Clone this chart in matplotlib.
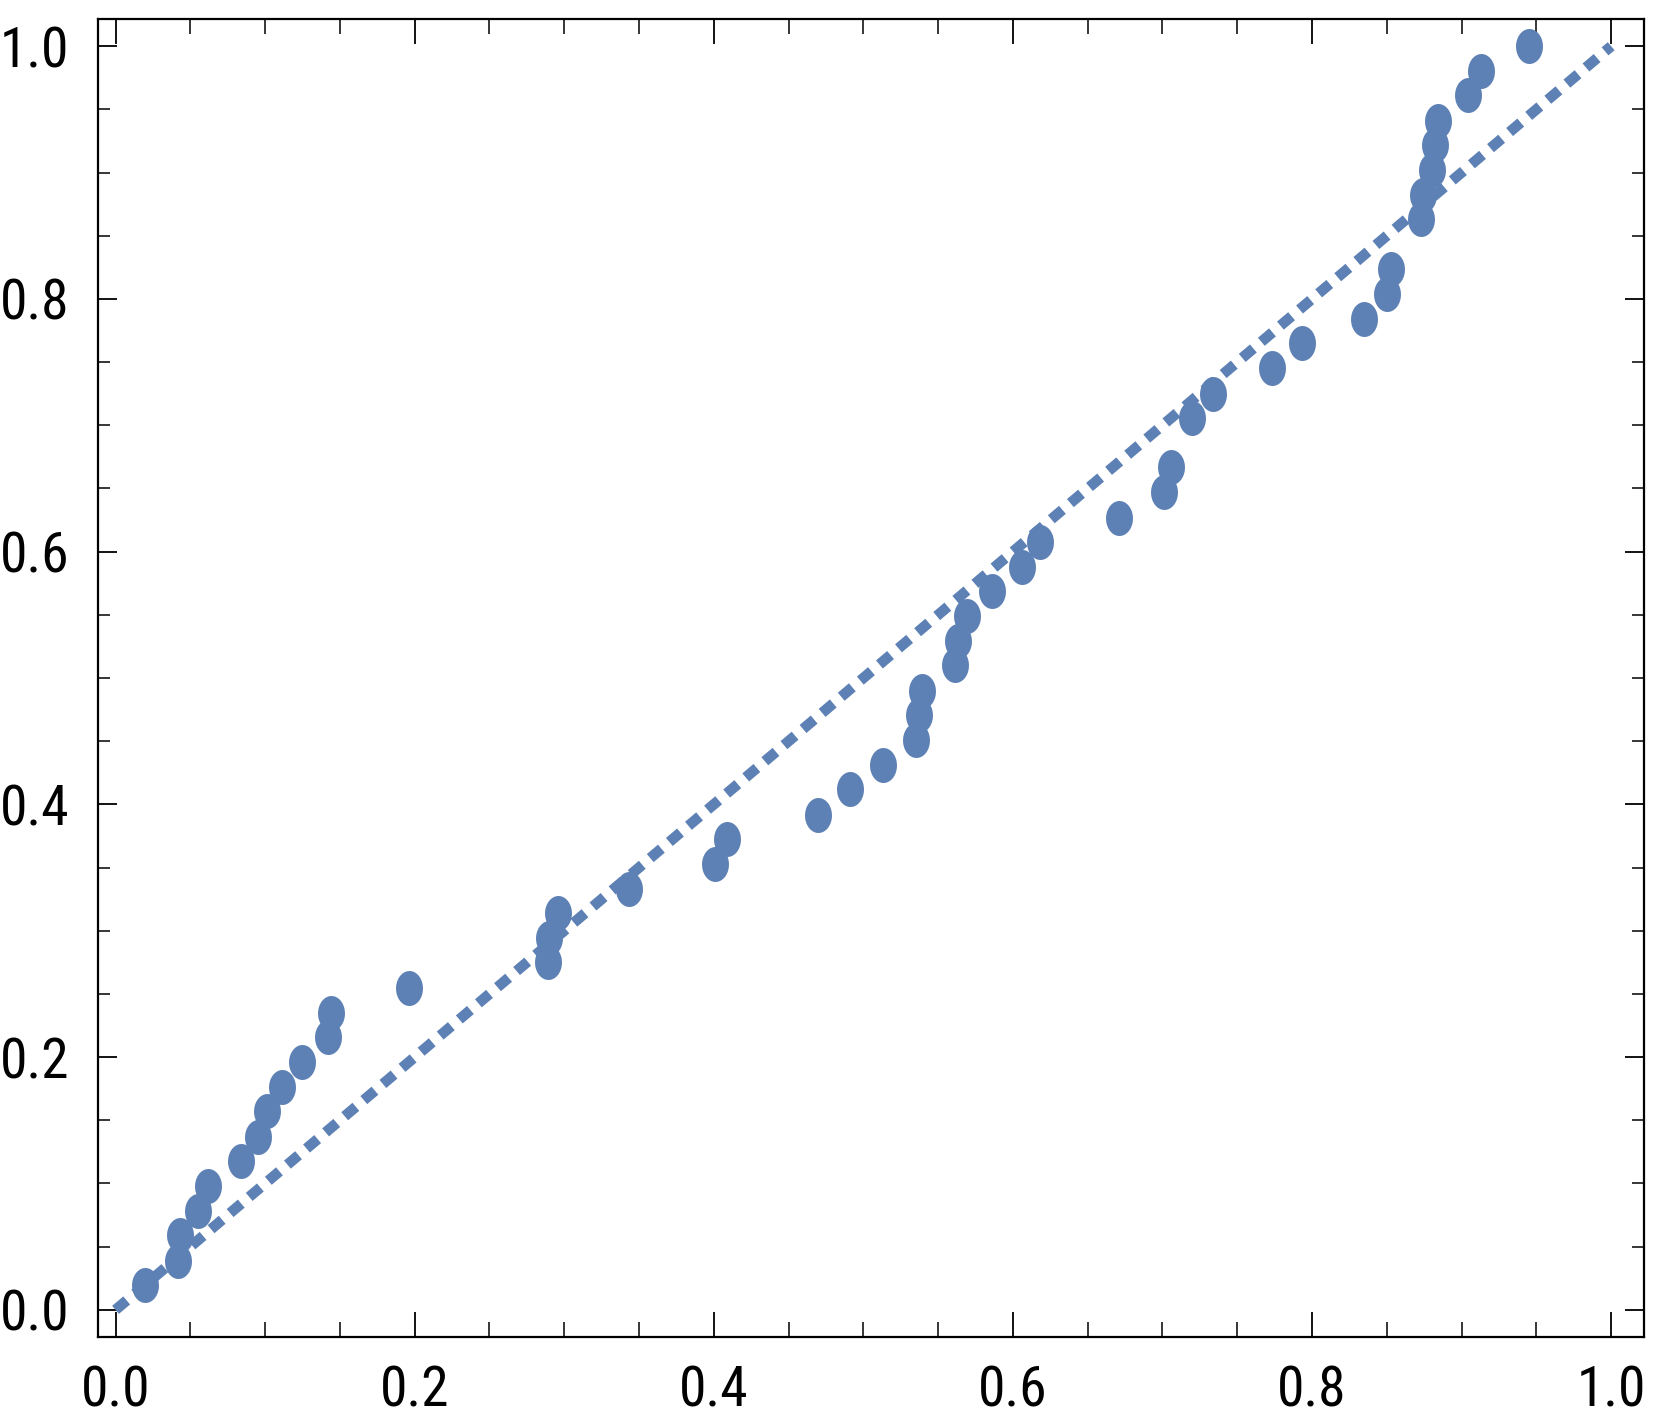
import numpy as np
import matplotlib
matplotlib.use("Agg")
import matplotlib.pyplot as plt
from matplotlib import font_manager
from matplotlib.path import Path
from matplotlib.ticker import MultipleLocator

x_vals = [0.020, 0.042, 0.043, 0.055, 0.062, 0.084, 0.095, 0.101, 0.111, 0.125,
          0.142, 0.144, 0.196, 0.289, 0.290, 0.296, 0.343, 0.401, 0.409, 0.470,
          0.491, 0.513, 0.535, 0.537, 0.539, 0.561, 0.563, 0.569, 0.586, 0.606,
          0.618, 0.671, 0.701, 0.706, 0.720, 0.734, 0.773, 0.793, 0.835, 0.850,
          0.853, 0.873, 0.874, 0.880, 0.882, 0.884, 0.904, 0.913, 0.945]
y_vals = [0.020, 0.039, 0.059, 0.078, 0.098, 0.118, 0.137, 0.157, 0.176, 0.196,
          0.216, 0.235, 0.255, 0.275, 0.294, 0.314, 0.333, 0.353, 0.373, 0.392,
          0.412, 0.431, 0.451, 0.471, 0.490, 0.510, 0.529, 0.549, 0.569, 0.588,
          0.608, 0.627, 0.647, 0.667, 0.706, 0.725, 0.745, 0.765, 0.784, 0.804,
          0.824, 0.863, 0.882, 0.902, 0.922, 0.941, 0.961, 0.980, 1.000]
ref_line = [0.0, 1.0]
tick_vals = [0.0, 0.2, 0.4, 0.6, 0.8, 1.0]

BLUE = "#5E81B5"
DPI = 100

# pick the narrowest sans family that is actually installed
installed = {f.name for f in font_manager.fontManager.ttflist}
print(sorted(n for n in installed if 'ondensed' in n or 'arrow' in n))
narrow = [n for n in ['Liberation Sans Narrow', 'DejaVu Sans Condensed',
                      'Roboto Condensed', 'Open Sans Condensed'] if n in installed]
plt.rcParams['font.family'] = narrow + ['DejaVu Sans']
plt.rcParams['lines.scale_dashes'] = False
label_size = 40 if narrow else 34

# squashed ellipse marker (taller than wide)
t = np.linspace(0, 2 * np.pi, 60)
ellipse = Path(np.column_stack([0.77 * np.cos(t), np.sin(t)]), closed=True)

fig = plt.figure(figsize=(1661 / DPI, 1421 / DPI), dpi=DPI)
ax = fig.add_axes([0.0593, 0.0591, 0.9898 - 0.0593, 0.9866 - 0.0591])

ax.plot(ref_line, ref_line, color=BLUE, linewidth=7.6, dashes=(10.5, 7.5),
        dash_capstyle='butt', zorder=2)
ax.plot(x_vals, y_vals, linestyle='none', marker=ellipse, markersize=25.2,
        color=BLUE, markeredgewidth=0, zorder=3)

ax.set_xlim(-0.0114, 1.022)
ax.set_ylim(-0.0215, 1.0215)
ax.set_xticks(tick_vals)
ax.set_yticks(tick_vals)
ax.set_xticklabels([f"{v:.1f}" for v in tick_vals])
ax.set_yticklabels([f"{v:.1f}" for v in tick_vals])
ax.xaxis.set_minor_locator(MultipleLocator(0.05))
ax.yaxis.set_minor_locator(MultipleLocator(0.05))

for s in ax.spines.values():
    s.set_linewidth(1.6)
    s.set_color('black')

ax.tick_params(axis='x', which='major', direction='in', length=18, width=1.3,
               top=True, bottom=True, labelsize=label_size, pad=20)
ax.tick_params(axis='x', which='minor', direction='in', length=11, width=1.1,
               top=True, bottom=True)
ax.tick_params(axis='y', which='major', direction='in', length=13.5, width=1.3,
               left=True, right=True, labelsize=label_size, pad=21)
ax.tick_params(axis='y', which='minor', direction='in', length=8.5, width=1.1,
               left=True, right=True)

fig.savefig("out.png", dpi=DPI)
